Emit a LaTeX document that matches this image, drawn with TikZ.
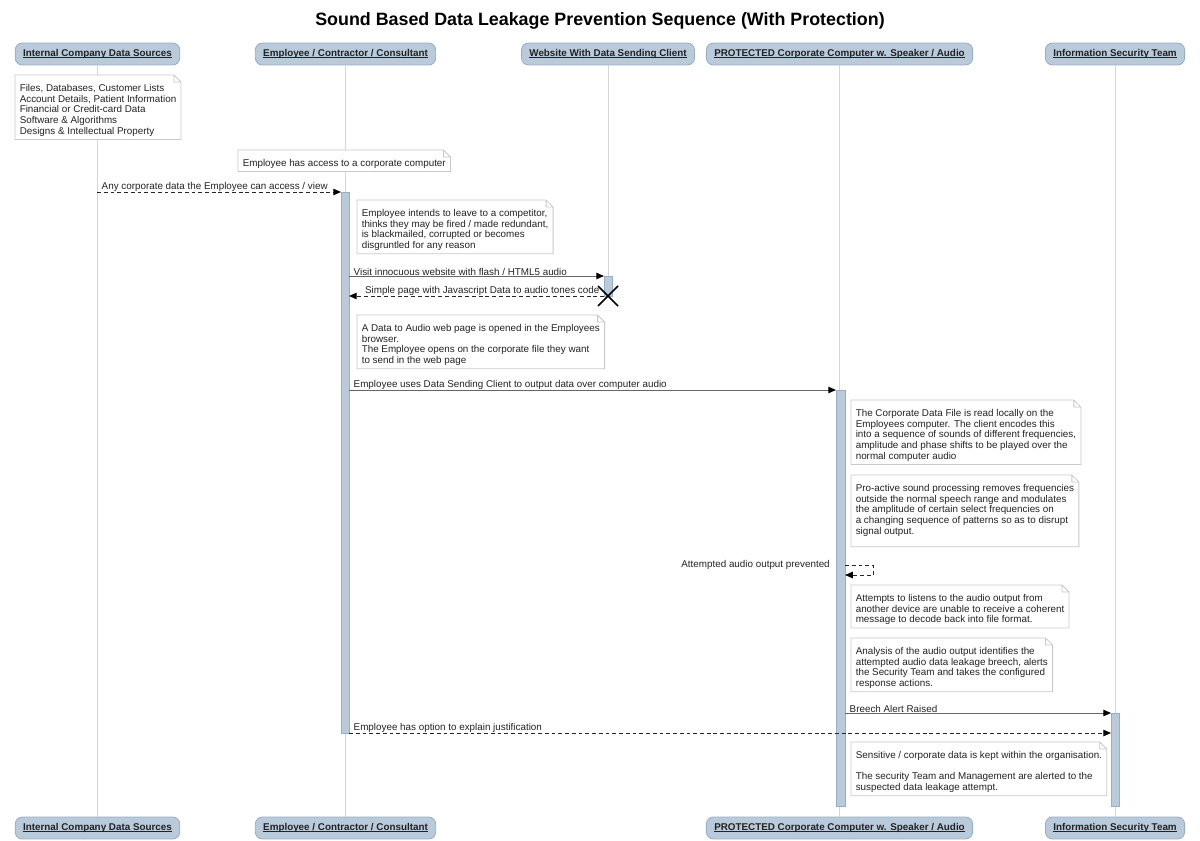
\documentclass[tikz,border=0pt]{standalone}
\usepackage{fontspec}
\setmainfont{Liberation Sans}
\usetikzlibrary{calc,arrows.meta}
\definecolor{actorfill}{HTML}{B9CADB}
\definecolor{actordraw}{HTML}{98AEC4}
\definecolor{lifegray}{HTML}{D6D6D6}
\definecolor{notegray}{HTML}{C9C9C9}
\definecolor{inkgray}{HTML}{222222}
\newcommand{\smalltext}{\fontsize{7}{7.65}\selectfont}
\newcommand{\notestrut}{\rule{0pt}{9.4pt}}
\newcommand{\actorline}[1]{\setbox0\hbox{#1}\rlap{\rule[-1pt]{\wd0}{0.45pt}}\box0}
\newcommand{\foldnote}[1]{%
  \draw[notegray,line width=0.6pt] (#1.south west) -- (#1.north west)
    -- ([xshift=-5pt]#1.north east) -- ([yshift=-5pt]#1.north east)
    -- (#1.south east) -- cycle
    ([xshift=-5pt]#1.north east) |- ([yshift=-5pt]#1.north east);}

\begin{document}
\begin{tikzpicture}[
    x=0.025cm, y=-0.025cm,
    font=\smalltext, text=inkgray,
    actor/.style={
      draw=actordraw,
      fill=actorfill,
      line width=0.6pt,
      rounded corners=5pt,
      minimum height=15.6pt,
      inner xsep=5.6pt,
      font=\smalltext\bfseries,
    },
    lifeline/.style={draw=lifegray, line width=0.7pt},
    activation/.style={draw=actordraw, fill=actorfill, line width=0.5pt},
    note/.style={
      anchor=north west,
      align=left,
      fill=white,
      inner xsep=3.2pt,
      inner ysep=2pt,
    },
    msg/.style={draw=black!60, line width=0.7pt,
      -{Triangle[length=5.5pt,width=4.6pt,color=black]}},
    reply/.style={msg, draw=black!85, dash pattern=on 2.8pt off 2pt},
    msg label/.style={inner xsep=0pt, inner ysep=0pt},
    ]
    \useasboundingbox (0,0) rectangle (1200,840);
    \node[font=\fontsize{12.7}{15}\selectfont\bfseries, text=black] (title) at (600,21)
      {Sound Based Data Leakage Prevention Sequence (With Protection)};

    \node[actor] (sources)  at (97.5,54)  {\actorline{Internal Company Data Sources}};
    \node[actor] (employee) at (345.5,54) {\actorline{Employee / Contractor / Consultant}};
    \node[actor] (website)  at (608,54)   {\actorline{Website With Data Sending Client}};
    \node[actor] (computer) at (839.5,54) {\actorline{PROTECTED Corporate Computer w. Speaker / Audio}};
    \node[actor] (security) at (1115,54)  {\actorline{Information Security Team}};

    \node[actor] (sources-end)  at (97.5,828)  {\actorline{Internal Company Data Sources}};
    \node[actor] (employee-end) at (345.5,828) {\actorline{Employee / Contractor / Consultant}};
    \node[actor] (computer-end) at (839.5,828) {\actorline{PROTECTED Corporate Computer w. Speaker / Audio}};
    \node[actor] (security-end) at (1115,828)  {\actorline{Information Security Team}};

    \coordinate (website-destroy) at (608,296);
    \draw[lifeline] (sources)  -- (sources-end);
    \draw[lifeline] (employee) -- (employee-end);
    \draw[lifeline] (website)  -- (website-destroy);
    \draw[lifeline] (computer) -- (computer-end);
    \draw[lifeline] (security) -- (security-end);

    \path[activation] (341,192)  rectangle (349,733);
    \path[activation] (604,276)  rectangle (612,296);
    \path[activation] (836,390)  rectangle (845,806);
    \path[activation] (1111,713) rectangle (1119,806);
    \draw[line width=1.1pt] ([shift={(-10,-10)}]website-destroy) -- ([shift={(10,10)}]website-destroy)
      ([shift={(-10,10)}]website-destroy) -- ([shift={(10,-10)}]website-destroy);

    \node[note] (sources-note) at (15,75) {\notestrut Files, Databases, Customer Lists\\
      Account Details, Patient Information\\Financial or Credit-card Data\\
      Software \& Algorithms\\Designs \& Intellectual Property};
    \node[note] (access-note) at (238,150) {\notestrut Employee has access to a corporate computer};
    \node[note] (intent-note) at (357,200) {\notestrut Employee intends to leave to a competitor,\\
      thinks they may be fired / made redundant,\\is blackmailed, corrupted or becomes\\
      disgruntled for any reason};
    \node[note] (page-note) at (357,315) {\notestrut A Data to Audio web page is opened in the Employees\\
      browser.\\The Employee opens on the corporate file they want\\to send in the web page};
    \node[note] (encode-note) at (851,400) {\notestrut The Corporate Data File is read locally on the\\
      Employees computer. The client encodes this\\
      into a sequence of sounds of different frequencies,\\
      amplitude and phase shifts to be played over the\\normal computer audio};
    \node[note] (filter-note) at (851,475) {\notestrut Pro-active sound processing removes frequencies\\
      outside the normal speech range and modulates\\
      the amplitude of certain select frequencies on\\
      a changing sequence of patterns so as to disrupt\\signal output.\\[-1pt] ~};
    \node[note] (listen-note) at (851,585) {\notestrut Attempts to listens to the audio output from\\
      another device are unable to receive a coherent\\message to decode back into file format.};
    \node[note] (analysis-note) at (851,638) {\notestrut Analysis of the audio output identifies the\\
      attempted audio data leakage breech, alerts\\the Security Team and takes the configured\\
      response actions.};
    \node[note] (result-note) at (851,742) {\notestrut Sensitive / corporate data is kept within the organisation.\\
      \\The security Team and Management are alerted to the\\suspected data leakage attempt.};
    \foreach \n in {sources-note,access-note,intent-note,page-note,encode-note,
                    filter-note,listen-note,analysis-note,result-note}
      \foldnote{\n};

    \coordinate (data-from)    at (97,192);
    \coordinate (data-to)      at (341,192);
    \coordinate (visit-from)   at (349,276);
    \coordinate (visit-to)     at (604,276);
    \coordinate (page-from)    at (604,296);
    \coordinate (page-to)      at (349,296);
    \coordinate (output-from)  at (349,390);
    \coordinate (output-to)    at (836,390);
    \coordinate (block-from)   at (845,565);
    \coordinate (block-to)     at (845,575);
    \coordinate (alert-from)   at (845,713);
    \coordinate (alert-to)     at (1111,713);
    \coordinate (explain-from) at (349,733);
    \coordinate (explain-to)   at (1111,733);

    \draw[reply] (data-from) -- node[msg label, at start, anchor=south west, xshift=3pt]
      {Any corporate data the Employee can access / view} (data-to);
    \draw[msg] (visit-from) -- node[msg label, at start, anchor=south west, xshift=3pt]
      {Visit innocuous website with flash / HTML5 audio} (visit-to);
    \draw[reply] (page-from) -- node[msg label, at start, anchor=south east, xshift=-3pt]
      {Simple page with Javascript Data to audio tones code} (page-to);
    \draw[msg] (output-from) -- node[msg label, at start, anchor=south west, xshift=3pt]
      {Employee uses Data Sending Client to output data over computer audio} (output-to);
    \draw[reply] (block-from) -- ++(28,0) |- (block-to);
    \node[anchor=east, inner sep=0pt] (block-label) at (830,565) {Attempted audio output prevented};
    \draw[msg] (alert-from) -- node[msg label, at start, anchor=south west, xshift=3pt]
      {Breech Alert Raised} (alert-to);
    \draw[reply] (explain-from) -- node[msg label, at start, anchor=south west, xshift=3pt]
      {Employee has option to explain justification} (explain-to);
\end{tikzpicture}
\end{document}
